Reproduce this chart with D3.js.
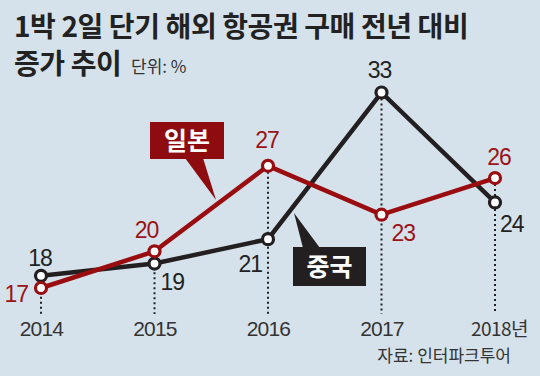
<!DOCTYPE html>
<html><head><meta charset="utf-8">
<script src="https://cdn.jsdelivr.net/npm/d3@7"></script>
<style>
html,body{margin:0;padding:0;background:#d6e2eb;}
svg{display:block;}
</style></head>
<body>
<svg id="c" width="540" height="376"></svg>
<script>
const years = ["2014","2015","2016","2017","2018"];
const yearLabels = ["2014","2015","2016","2017","2018년"];
const china = [18, 19, 21, 33, 24];
const japan = [17, 20, 27, 23, 26];
const titleLine1 = "1박 2일 단기 해외 항공권 구매 전년 대비";
const titleLine2 = "증가 추이";
const unitText = "단위: %";
const sourceText = "자료: 인터파크투어";
const seriesNames = ["중국", "일본"];

const RED = "#990d10", DARK = "#231f20";
const NUM_FONT = "'Liberation Sans', Arial, sans-serif";
const KR_FONT = "'Noto Sans CJK KR', 'Noto Sans', sans-serif";

const svg = d3.select("#c");
const x = d3.scalePoint().domain(years).range([41, 495]);
const y = d3.scaleLinear().domain([17, 33]).range([288, 92.5]);
const bottom = 314;

svg.append("rect").attr("width",540).attr("height",376).attr("fill","#d6e2eb");

// Title
svg.append("text").attr("x",14).attr("y",37).attr("font-family",KR_FONT)
  .attr("font-weight","bold").attr("font-size",28).attr("fill","#222").attr("letter-spacing",-0.4)
  .text(titleLine1);
svg.append("text").attr("x",14).attr("y",74).attr("font-family",KR_FONT)
  .attr("font-weight","bold").attr("font-size",28).attr("fill","#222").attr("letter-spacing",-0.4)
  .text(titleLine2);
svg.append("text").attr("x",131).attr("y",73).attr("font-family",KR_FONT)
  .attr("font-size",17).attr("fill","#333").text(unitText);

// dotted drop lines from the top point of each year
const tops = years.map((yr,i)=>Math.max(china[i], japan[i]));
svg.append("g").selectAll("line").data(years).join("line")
  .attr("x1",d=>x(d)).attr("x2",d=>x(d))
  .attr("y1",(d,i)=>y(tops[i])+6).attr("y2",bottom)
  .attr("stroke",DARK).attr("stroke-width",2).attr("stroke-dasharray","2,3");

// x axis labels
const xAxis = d3.axisBottom(x).tickSize(0).tickPadding(0).tickFormat((d,i)=>yearLabels[i]);
const gx = svg.append("g").attr("transform",`translate(0,${321})`).call(xAxis);
gx.select(".domain").remove();
gx.selectAll("text").attr("font-family",NUM_FONT).attr("font-size",21).attr("fill","#333")
  .attr("dy","0.71em").attr("letter-spacing",-0.8);
gx.selectAll("text").filter((d,i)=>i===4).attr("font-family",KR_FONT).attr("font-size",19).attr("dy","0.8em").attr("dx",4).attr("letter-spacing",-0.5);

// Callout boxes
function callout(cx0, cy0, w, h, tri, color, label){
  const g = svg.append("g");
  g.append("path").attr("d", d3.line()(tri)).attr("fill",color);
  g.append("rect").attr("x",cx0).attr("y",cy0).attr("width",w).attr("height",h).attr("fill",color);
  g.append("text").attr("x",cx0+w/2).attr("y",cy0+h/2+9).attr("text-anchor","middle")
    .attr("font-family",KR_FONT).attr("font-weight","bold").attr("font-size",25).attr("fill","#fff").text(label);
}
callout(150,122,74,37,[[185,158],[203,158],[216,200]],"#8e0c0f",seriesNames[1]);
callout(293,247,73,39,[[303,248],[320,248],[294,213]],DARK,seriesNames[0]);

// lines
const line = d3.line().x((d,i)=>x(years[i])).y(d=>y(d));
function drawSeries(vals,color){
  svg.append("path").datum(vals).attr("d",line).attr("fill","none")
    .attr("stroke",color).attr("stroke-width",4.5).attr("stroke-linejoin","miter");
  svg.append("g").selectAll("circle").data(vals).join("circle")
    .attr("cx",(d,i)=>x(years[i])).attr("cy",d=>y(d)).attr("r",5.5)
    .attr("fill","#fff").attr("stroke",color).attr("stroke-width",3.2);
}
drawSeries(china, DARK);
drawSeries(japan, RED);

// value labels: [dx, dy, anchor] relative to the point
const chinaLabelPos = [[-1,-10,"middle"],[6,26,"start"],[-6,33,"end"],[-2,-15,"middle"],[5,30,"start"]];
const japanLabelPos = [[-13,14,"end"],[-8,-13,"middle"],[-1,-18,"middle"],[10,26,"start"],[4,-13,"middle"]];
function labels(vals,pos,color){
  svg.append("g").selectAll("text").data(vals).join("text")
    .attr("x",(d,i)=>x(years[i])+pos[i][0]).attr("y",(d,i)=>y(d)+pos[i][1])
    .attr("text-anchor",(d,i)=>pos[i][2])
    .attr("font-family",NUM_FONT).attr("font-size",23).attr("letter-spacing",-1)
    .attr("fill",color).text(d=>d);
}
labels(china, chinaLabelPos, "#222");
labels(japan, japanLabelPos, "#9a1316");

// source
svg.append("text").attr("x",511).attr("y",362).attr("text-anchor","end")
  .attr("font-family",KR_FONT).attr("font-size",17).attr("fill","#333").text(sourceText);
</script>
</body></html>
